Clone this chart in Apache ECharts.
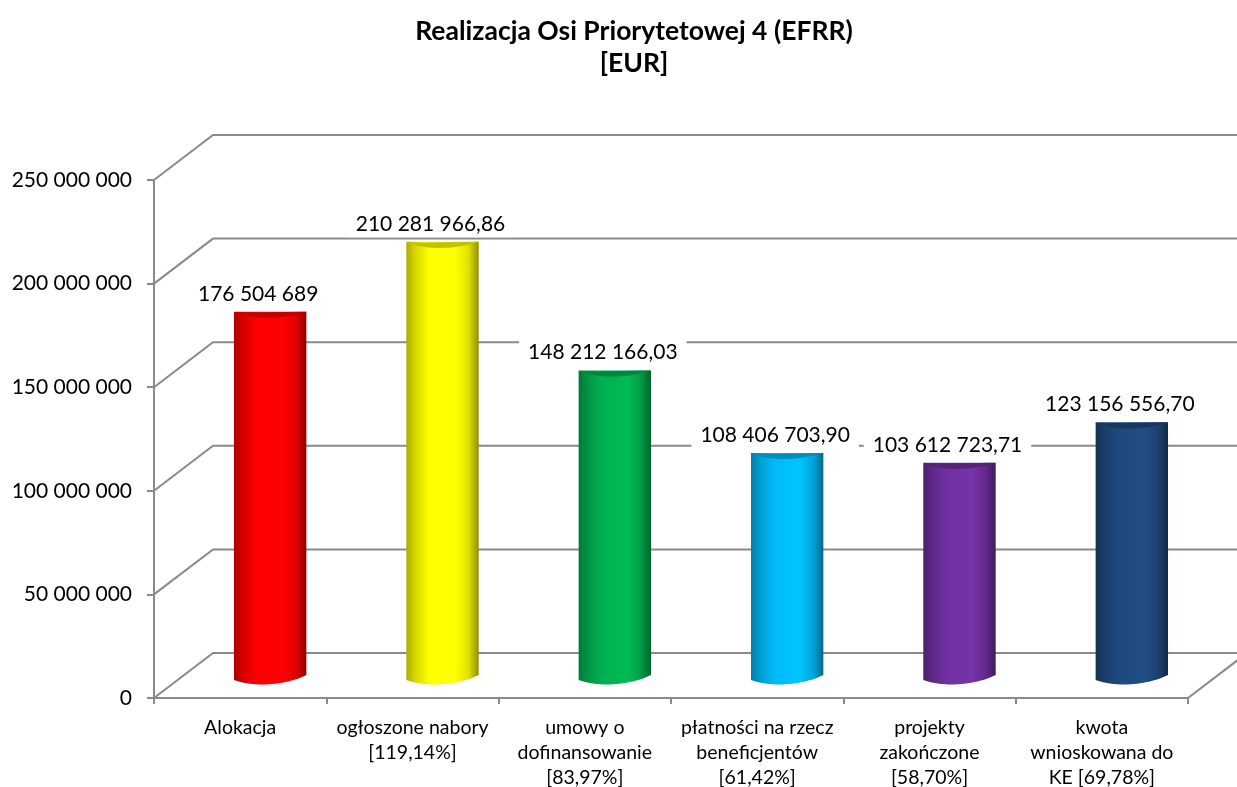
<!DOCTYPE html>
<html>
<head>
<meta charset="utf-8">
<style>html,body{margin:0;padding:0;background:#fff}#c{width:1237px;height:787px}</style>
<script src="https://cdn.jsdelivr.net/npm/echarts@6/dist/echarts.min.js"></script>
</head>
<body>
<div id="c"></div>
<script>
const categories = ['Alokacja','ogłoszone nabory\n[119,14%]','umowy o\ndofinansowanie\n[83,97%]','płatności na rzecz\nbeneficjentów\n[61,42%]','projekty\nzakończone\n[58,70%]','kwota\nwnioskowana do\nKE [69,78%]'];
const values = [176504689, 210281966.86, 148212166.03, 108406703.90, 103612723.71, 123156556.70];
const valueLabels = ['176 504 689','210 281 966,86','148 212 166,03','108 406 703,90','103 612 723,71','123 156 556,70'];
const barColors = ['#ff0000','#ffff00','#00b050','#00baf8','#7030a0','#1f497d'];
const yTicks = [0,50000000,100000000,150000000,200000000,250000000];
const FONT = 'Lato';
const GRAY = '#8a8a8a';
const DEPTH_X = 59, DEPTH_Y = -45;      // back wall offset of the 3D frame
const BAR_X = 30, BAR_Y = -20.5;        // bars stand midway into the depth

function shade(hex, k){
  const n = parseInt(hex.slice(1),16);
  const f = c => Math.max(0,Math.min(255,Math.round(c*k)));
  return 'rgb('+f(n>>16&255)+','+f(n>>8&255)+','+f(n&255)+')';
}
function cubic(p0,p1,p2,p3,n){
  const out=[];
  for(let i=0;i<=n;i++){
    const t=i/n,u=1-t;
    out.push([u*u*u*p0[0]+3*u*u*t*p1[0]+3*u*t*t*p2[0]+t*t*t*p3[0],
              u*u*u*p0[1]+3*u*u*t*p1[1]+3*u*t*t*p2[1]+t*t*t*p3[1]]);
  }
  return out;
}

function renderFrame(params, api){
  const cs = params.coordSys;
  const y = api.coord([0, api.value(1)])[1];
  const l = cs.x, r = cs.x + cs.width;
  const style = {stroke:GRAY, lineWidth:2, fill:'none'};
  const children = [{type:'polyline', shape:{points:[[l,y],[l+DEPTH_X,y+DEPTH_Y],[r+DEPTH_X,y+DEPTH_Y]]}, style, silent:true}];
  if(api.value(1)===0){
    children.push({type:'line', shape:{x1:r,y1:y,x2:r+DEPTH_X,y2:y+DEPTH_Y}, style, silent:true});
  }
  return {type:'group', children};
}

function renderBar(params, api){
  const i = api.value(0);
  const top = api.coord([i, api.value(1)]);
  const base = api.coord([i, 0]);
  const w = api.size([1,0])[0]*0.42;
  const cx = top[0]+BAR_X;
  const L = cx-w/2, R = cx+w/2;
  const yT = top[1]+BAR_Y, yB = base[1]+BAR_Y;
  const c = barColors[i];
  const bottom = cubic([R,yB-2.5],[R-22,yB+8.5],[L+18,yB+9.5],[L,yB+2.5],24);
  const sag = cubic([R,yT],[R-24,yT+8],[L+20,yT+8],[L,yT+1],24);
  const body = [[L,yT],[R,yT]].concat(bottom);
  const grad = new echarts.graphic.LinearGradient(0,0,1,0,[
    {offset:0,color:shade(c,0.68)},
    {offset:0.12,color:shade(c,0.84)},
    {offset:0.32,color:shade(c,1)},
    {offset:0.68,color:shade(c,1.06)},
    {offset:0.86,color:shade(c,0.88)},
    {offset:1,color:shade(c,0.56)}
  ]);
  return {type:'group', children:[
    {type:'polygon', shape:{points:body}, style:{fill:grad}},
    {type:'polygon', shape:{points:sag}, style:{fill:shade(c,0.76)}}
  ]};
}

function renderLabel(params, api){
  const i = api.value(0);
  const p = api.coord([i, api.value(1)]);
  return {type:'text', x:p[0]+BAR_X-12, y:p[1]+BAR_Y-18, silent:true,
    style:{text:valueLabels[i], font:'21px '+FONT, fill:'#000', align:'center', verticalAlign:'middle',
           backgroundColor:'#fff', padding:[3,9,3,9]}};
}

const chart = echarts.init(document.getElementById('c'), null, {renderer:'canvas'});
chart.setOption({
  animation:false,
  backgroundColor:'#fff',
  title:{text:'Realizacja Osi Priorytetowej 4 (EFRR)\n[EUR]', left:629, top:10, textAlign:'center',
    textStyle:{fontFamily:FONT,fontWeight:'bold',fontSize:26.5,lineHeight:32,color:'#000'}},
  grid:{left:154,top:180,width:1034,height:518,containLabel:false,outerBoundsMode:'none'},
  xAxis:{type:'category',data:categories,
    axisLine:{lineStyle:{color:GRAY,width:2}},
    axisTick:{show:true,length:6,alignWithLabel:false,lineStyle:{color:GRAY,width:2}},
    axisLabel:{fontFamily:FONT,fontSize:19.5,lineHeight:25,color:'#000',margin:17,interval:0}},
  yAxis:{type:'value',min:0,max:250000000,interval:50000000,
    axisLine:{show:true,lineStyle:{color:GRAY,width:2}},
    axisTick:{show:true,length:7,lineStyle:{color:GRAY,width:2}},
    splitLine:{show:false},
    axisLabel:{fontFamily:FONT,fontSize:21,color:'#000',margin:22,
      formatter:v=>String(v).replace(/\B(?=(\d{3})+$)/g,' ')}},
  series:[
    {type:'custom',z:1,renderItem:renderFrame,encode:{x:0,y:1},data:yTicks.map(v=>[0,v]),silent:true},
    {type:'custom',z:2,renderItem:renderBar,encode:{x:0,y:1},data:values.map((v,i)=>[i,v])},
    {type:'custom',z:3,renderItem:renderLabel,encode:{x:0,y:1},data:values.map((v,i)=>[i,v]),silent:true}
  ]
});
</script>
</body>
</html>
